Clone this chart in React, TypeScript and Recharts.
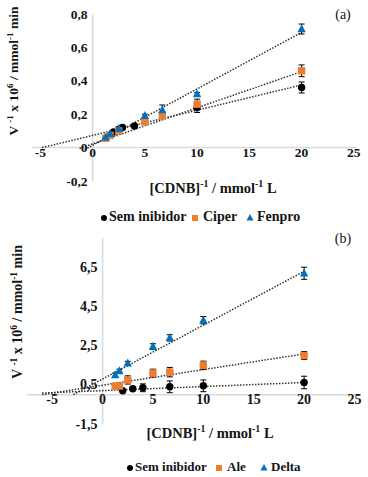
import React from 'react';
import { ComposedChart, Scatter, Line, XAxis, YAxis, ErrorBar, ReferenceLine, ReferenceDot } from 'recharts';

// panel (a)
const xInhibA = [1.25, 1.67, 2.5, 5, 6.67, 10, 20];
const semAX = [2, 2.5, 2.86, 4, 10, 20];
const semAY = [0.093, 0.11, 0.12, 0.13, 0.24, 0.36];
const semAErr = [0.005, 0.005, 0.005, 0.005, 0.03, 0.033];
const ciperY = [0.056, 0.073, 0.1, 0.155, 0.19, 0.26, 0.46];
const ciperErr = [0.005, 0.005, 0.01, 0.01, 0.01, 0.03, 0.035];
const fenproY = [0.062, 0.083, 0.112, 0.19, 0.225, 0.32, 0.71];
const fenproErr = [0.005, 0.005, 0.01, 0.01, 0.03, 0.01, 0.03];
const semATrend = [{ x: -4.83, y: 0 }, { x: 20, y: 0.375 }];
const ciperTrend = [{ x: -1.25, y: -0.005 }, { x: 20, y: 0.455 }];
const fenproTrend = [{ x: -0.75, y: -0.012 }, { x: 20, y: 0.69 }];
const xTicksA = [-5, 0, 5, 10, 15, 20, 25];
const yTicksA = [-0.2, 0, 0.2, 0.4, 0.6, 0.8];
const namesA = ['Sem inibidor', 'Ciper', 'Fenpro'];

// panel (b)
const xInhibB = [1.25, 1.67, 2.5, 5, 6.67, 10, 20];
const semBX = [2, 3, 4, 6.67, 10, 20];
const semBY = [0.2, 0.3, 0.35, 0.4, 0.45, 0.62];
const semBErr = [0.05, 0.1, 0.2, 0.3, 0.3, 0.32];
const aleY = [0.44, 0.44, 0.75, 1.1, 1.15, 1.5, 2.0];
const aleErr = [0.05, 0.05, 0.21, 0.2, 0.24, 0.21, 0.2];
const deltaY = [1.0, 1.2, 1.6, 2.45, 2.9, 3.8, 6.2];
const deltaErr = [0.1, 0.1, 0.1, 0.15, 0.16, 0.19, 0.31];
const semBTrend = [{ x: -6, y: 0.08 }, { x: 20, y: 0.62 }];
const aleTrend = [{ x: -6, y: 0 }, { x: 20, y: 2.08 }];
const deltaTrend = [{ x: -2.9, y: 0 }, { x: 20, y: 6.3 }];
const xTicksB = [-5, 0, 5, 10, 15, 20, 25];
const yTicksB = [-1.5, 0.5, 2.5, 4.5, 6.5];
const namesB = ['Sem inibidor', 'Ale', 'Delta'];

const SERIF = '"Liberation Serif", "Times New Roman", serif';
const INK = '#141414';
const BLACK = '#000000';
const ORANGE = '#ED7D31';
const BLUE = '#0070C0';

const pts = (xs: number[], ys: number[], es: number[]) => xs.map((x, i) => ({ x, y: ys[i], err: es[i] }));
const fmt = (v: number) => String(v).replace('.', ',');

const CircleMark = (p: any) => <circle cx={p.cx} cy={p.cy} r={3.7} fill={BLACK} />;
const SquareMark = (p: any) => <rect x={p.cx - 3.7} y={p.cy - 3.7} width={7.4} height={7.4} fill={ORANGE} />;
const TriMark = (p: any) => (
  <polygon points={`${p.cx},${p.cy - 4.8} ${p.cx + 4.2},${p.cy + 3.2} ${p.cx - 4.2},${p.cy + 3.2}`} fill={BLUE} />
);

// tick label drawn next to a zero-radius ReferenceDot
function TickText(props: any) {
  const { viewBox, text, side, offset, size } = props;
  if (!viewBox) return null;
  const x = side === 'left' ? viewBox.x - offset : viewBox.x;
  const y = side === 'left' ? viewBox.y : viewBox.y + offset;
  return (
    <text
      x={x}
      y={y}
      textAnchor={side === 'left' ? 'end' : 'middle'}
      dominantBaseline="central"
      fontFamily={SERIF}
      fontWeight="bold"
      fontSize={size}
      fill={INK}
    >
      {text}
    </text>
  );
}

interface PanelProps {
  top: number;
  height: number;
  margin: { top: number; right: number; bottom: number; left: number };
  xDomain: [number, number];
  yDomain: [number, number];
  xTicks: number[];
  yTicks: number[];
  fontSize: number;
  xOffset: number;
  yOffset: number;
  sem: any[];
  s2: any[];
  s3: any[];
  trends: any[][];
}

function Panel(props: PanelProps) {
  const { top, height, margin, xDomain, yDomain, xTicks, yTicks, fontSize, xOffset, yOffset, sem, s2, s3, trends } = props;
  return (
    <div style={{ position: 'absolute', left: 0, top, width: 368, height }}>
      <ComposedChart width={368} height={height} margin={margin}>
        <XAxis type="number" dataKey="x" domain={xDomain} hide allowDataOverflow />
        <YAxis type="number" dataKey="y" domain={yDomain} hide allowDataOverflow />
        <ReferenceLine x={0} stroke="#d9d9d9" strokeWidth={1.5} />
        <ReferenceLine y={0} stroke="#d9d9d9" strokeWidth={1.5} />
        {xTicks.map((t) => (
          <ReferenceDot
            key={'x' + t}
            x={t}
            y={0}
            r={0}
            fill="none"
            stroke="none"
            label={<TickText text={fmt(t)} side="bottom" offset={xOffset} size={fontSize} />}
          />
        ))}
        {yTicks.map((t) => (
          <ReferenceDot
            key={'y' + t}
            x={0}
            y={t}
            r={0}
            fill="none"
            stroke="none"
            label={<TickText text={fmt(t)} side="left" offset={yOffset} size={fontSize} />}
          />
        ))}
        {trends.map((tr, i) => (
          <Line
            key={'t' + i}
            data={tr}
            dataKey="y"
            type="linear"
            stroke="#333333"
            strokeWidth={1.5}
            strokeDasharray="1.5 1.5"
            dot={false}
            activeDot={false}
            isAnimationActive={false}
          />
        ))}
        <Scatter data={sem} shape={CircleMark} isAnimationActive={false}>
          <ErrorBar dataKey="err" direction="y" width={3} stroke="#000" strokeWidth={1} />
        </Scatter>
        <Scatter data={s2} shape={SquareMark} isAnimationActive={false}>
          <ErrorBar dataKey="err" direction="y" width={3} stroke="#000" strokeWidth={1} />
        </Scatter>
        <Scatter data={s3} shape={TriMark} isAnimationActive={false}>
          <ErrorBar dataKey="err" direction="y" width={3} stroke="#000" strokeWidth={1} />
        </Scatter>
      </ComposedChart>
    </div>
  );
}

function YTitle({ x, y, size }: { x: number; y: number; size: number }) {
  const sup = size * 0.68;
  return (
    <text transform={`translate(${x},${y}) rotate(-90)`} textAnchor="middle" fontFamily={SERIF} fontWeight="bold" fontSize={size} fill={INK}>
      V <tspan dy={-5} fontSize={sup}>-1</tspan>
      <tspan dy={5}> x 10</tspan>
      <tspan dy={-5} fontSize={sup}>6</tspan>
      <tspan dy={5}> / mmol</tspan>
      <tspan dy={-5} fontSize={sup}>-1</tspan>
      <tspan dy={5}> min</tspan>
    </text>
  );
}

function XTitle({ x, y, size }: { x: number; y: number; size: number }) {
  const sup = size * 0.68;
  return (
    <text x={x} y={y} textAnchor="middle" dominantBaseline="middle" fontFamily={SERIF} fontWeight="bold" fontSize={size} fill={INK}>
      [CDNB]<tspan dy={-5} fontSize={sup}>-1</tspan>
      <tspan dy={5}> / mmol</tspan>
      <tspan dy={-5} fontSize={sup}>-1</tspan>
      <tspan dy={5}> L</tspan>
    </text>
  );
}

function LegendRow({ y, names, xs, size }: { y: number; names: string[]; xs: number[]; size: number }) {
  const t = { fontFamily: SERIF, fontWeight: 'bold' as const, fontSize: size, fill: INK, dominantBaseline: 'middle' as const };
  return (
    <g>
      <circle cx={xs[0]} cy={y} r={3} fill={BLACK} />
      <text x={xs[0] + 5} y={y} {...t}>{names[0]}</text>
      <rect x={xs[1] - 3} y={y - 3} width={6} height={6} fill={ORANGE} />
      <text x={xs[1] + 8} y={y} {...t}>{names[1]}</text>
      <polygon points={`${xs[2]},${y - 4} ${xs[2] + 3.5},${y + 2.5} ${xs[2] - 3.5},${y + 2.5}`} fill={BLUE} />
      <text x={xs[2] + 7} y={y} {...t}>{names[2]}</text>
    </g>
  );
}

export default function App() {
  return (
    <div style={{ position: 'absolute', left: 0, top: 0, width: 368, height: 477, background: '#fff' }}>
      <Panel
        top={0}
        height={240}
        margin={{ top: 14, right: 11, bottom: 59, left: 32 }}
        xDomain={[-5.8, 25.3]}
        yDomain={[-0.2, 0.8]}
        xTicks={xTicksA}
        yTicks={yTicksA}
        fontSize={13.5}
        xOffset={16}
        yOffset={12}
        sem={pts(semAX, semAY, semAErr)}
        s2={pts(xInhibA, ciperY, ciperErr)}
        s3={pts(xInhibA, fenproY, fenproErr)}
        trends={[semATrend, ciperTrend, fenproTrend]}
      />
      <Panel
        top={235}
        height={242}
        margin={{ top: 3, right: 13, bottom: 53, left: 27 }}
        xDomain={[-7.5, 25.05]}
        yDomain={[-1.5, 8]}
        xTicks={xTicksB}
        yTicks={yTicksB}
        fontSize={14}
        xOffset={17}
        yOffset={11}
        sem={pts(semBX, semBY, semBErr)}
        s2={pts(xInhibB, aleY, aleErr)}
        s3={pts(xInhibB, deltaY, deltaErr)}
        trends={[semBTrend, aleTrend, deltaTrend]}
      />
      <svg width={368} height={477} style={{ position: 'absolute', left: 0, top: 0, pointerEvents: 'none' }}>
        <text x={343} y={16} textAnchor="middle" dominantBaseline="middle" fontFamily={SERIF} fontSize={14} fill={INK}>(a)</text>
        <text x={343} y={240} textAnchor="middle" dominantBaseline="middle" fontFamily={SERIF} fontSize={14} fill={INK}>(b)</text>
        <YTitle x={18} y={71} size={13.5} />
        <YTitle x={22} y={312} size={14} />
        <XTitle x={213} y={190} size={14.5} />
        <XTitle x={210} y={435} size={14.5} />
        <LegendRow y={218} names={namesA} xs={[104, 195, 250]} size={14} />
        <LegendRow y={468} names={namesB} xs={[130, 219, 264]} size={13} />
      </svg>
    </div>
  );
}
